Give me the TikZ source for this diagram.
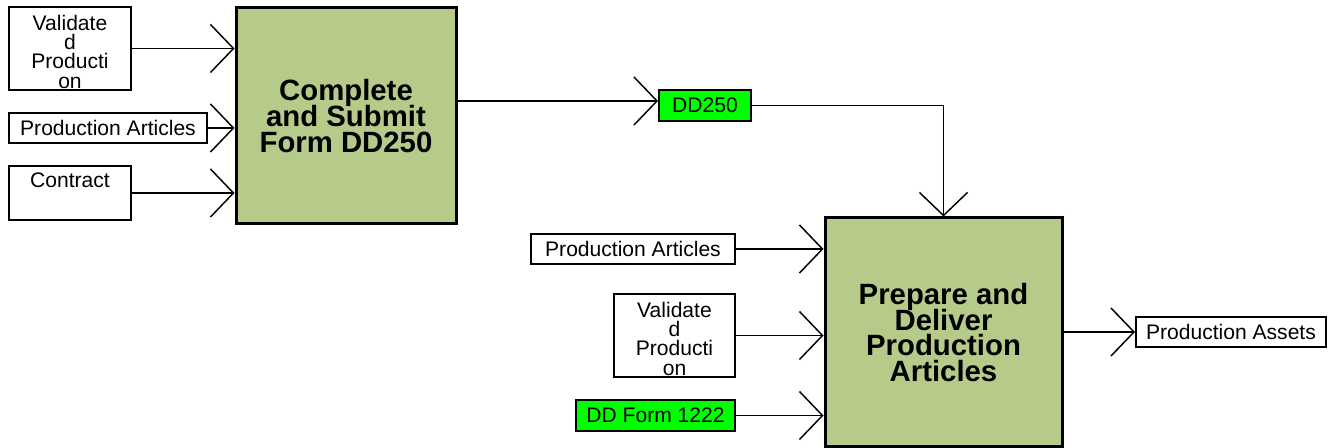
\documentclass[tikz,border=0pt]{standalone}
\usepackage{fontspec}
\setmainfont{Liberation Sans}
\usetikzlibrary{calc,arrows.meta}
\definecolor{actgreen}{RGB}{182,203,137}
\definecolor{formgreen}{RGB}{0,255,0}
\newcommand{\tightlines}{\lineskiplimit=-20pt\relax}

\begin{document}
\begin{tikzpicture}[x=0.75pt,y=-0.75pt,
   item/.style={draw,line width=1.5pt,fill=white,inner sep=0pt,align=center,
      font={\fontsize{15.8}{14.5}\selectfont\tightlines}},
   form/.style={item,fill=formgreen},
   act/.style={draw,line width=2.25pt,fill=actgreen,inner sep=0pt,align=center,
      font={\bfseries\fontsize{22}{19.3}\selectfont\tightlines}},
   flow/.style={line width=1.1pt,-{Straight Barb[length=17.25pt,width=36pt,line width=1.1pt]}}]
   \useasboundingbox (0,0) rectangle (1328,448);
   % first activity and its inputs
   \node[item,minimum width=91.5pt,minimum height=62.25pt,text height=59.5pt] (vp1) at (70,48.5) {Validate\\d\\Producti\\on};
   \node[item,minimum width=148.5pt,minimum height=22.5pt] (pa1) at (108,128) {Production Articles};
   \node[item,minimum width=91.5pt,inner ysep=5pt,text depth=19pt] (ct1) at (70,193) {Contract};
   \node[act,minimum width=165pt,minimum height=162pt] (A) at (346,116) {Complete\\and Submit\\Form DD250};
   \node[form,minimum width=69pt,minimum height=23.25pt] (dd250) at (705,105.5) {DD250};
   % second activity and its inputs
   \node[act,minimum width=177.75pt,minimum height=171.75pt] (B) at (943.5,332.5) {Prepare and\\Deliver\\Production\\Articles};
   \node[item,minimum width=153pt,minimum height=22.5pt] (pa2) at (633,249) {Production Articles};
   \node[item,minimum width=90.75pt,minimum height=62.25pt,text height=59.5pt] (vp2) at (674.5,335.5) {Validate\\d\\Producti\\on};
   \node[form,minimum width=119.25pt,minimum height=23.25pt] (dd1222) at (655.5,415.5) {DD Form 1222};
   \node[item,minimum width=142.5pt,minimum height=22.5pt] (pas) at (1231,332) {Production Assets};
   % flows
   \draw[flow] (vp1.east) -- (vp1.east -| A.west);
   \draw[flow] (pa1.east) -- (pa1.east -| A.west);
   \draw[flow] (ct1.east) -- (ct1.east -| A.west);
   \draw[flow] (A.east |- 0,101) -- (dd250.west |- 0,101);
   \draw[flow] (dd250.east) -| (B.north);
   \draw[flow] (pa2.east) -- (pa2.east -| B.west);
   \draw[flow] (vp2.east) -- (vp2.east -| B.west);
   \draw[flow] (dd1222.east) -- (dd1222.east -| B.west);
   \draw[flow] (B.east |- pas.west) -- (pas.west);
\end{tikzpicture}
\end{document}
